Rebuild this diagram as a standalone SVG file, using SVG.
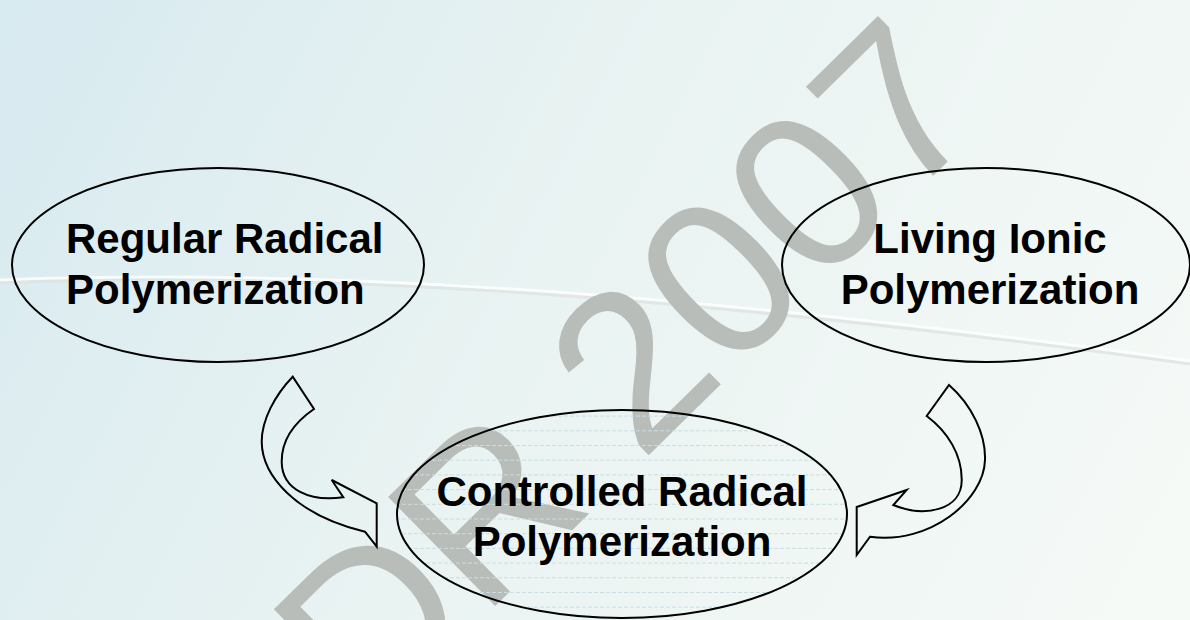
<svg xmlns="http://www.w3.org/2000/svg" width="1190" height="620" viewBox="0 0 1190 620">
  <defs>
    <linearGradient id="bg" x1="0" y1="0" x2="1190" y2="620" gradientUnits="userSpaceOnUse">
      <stop offset="0" stop-color="#d7eaf0"/>
      <stop offset="0.45" stop-color="#e9f3f2"/>
      <stop offset="1" stop-color="#f6faf7"/>
    </linearGradient>
    <pattern id="hlines" patternUnits="userSpaceOnUse" x="0" y="4" width="12" height="14.7">
      <line x1="0" y1="0.5" x2="12" y2="0.5" stroke="#c9dde2" stroke-width="1" stroke-dasharray="4 2"/>
    </pattern>
    <style>
      .node ellipse { stroke: #000; stroke-width: 2; fill: none; }
      .node text { font-family: "Liberation Sans", Arial, sans-serif; font-weight: bold; font-size: 42px; fill: #000; }
      .arrow { fill: none; stroke: #000; stroke-width: 2; stroke-linejoin: miter; }
      .wm { font-family: "Liberation Sans", Arial, sans-serif; font-size: 222px; fill: #b9bdb9; }
    </style>
  </defs>

  <rect x="0" y="0" width="1190" height="620" fill="url(#bg)"/>
  <path d="M0,283 C300,272 650,290 1190,364" fill="none" stroke="#ffffff" stroke-width="3" opacity="0.8" transform="translate(0,-3)"/>
  <path d="M0,283 C300,272 650,290 1190,364" fill="none" stroke="#dde3e2" stroke-width="3" opacity="0.8"/>

  <text class="wm" transform="translate(368,731) rotate(-44.5)">DR 2007</text>

  <g id="node-regular" class="node">
    <ellipse cx="218" cy="265" rx="206" ry="97"/>
    <text x="66" y="253">Regular Radical</text>
    <text x="66" y="304">Polymerization</text>
  </g>

  <g id="node-living" class="node">
    <ellipse cx="986" cy="265" rx="204" ry="97"/>
    <text x="990" y="253" text-anchor="middle">Living Ionic</text>
    <text x="990" y="304" text-anchor="middle">Polymerization</text>
  </g>

  <g id="node-controlled" class="node">
    <ellipse cx="622" cy="514" rx="225" ry="104" style="fill:url(#hlines)"/>
    <text x="622" y="506" text-anchor="middle">Controlled Radical</text>
    <text x="622" y="556" text-anchor="middle">Polymerization</text>
  </g>

  <g id="connectors">
    <path class="arrow" d="M292.7,376.7 C275,395 261.7,420 261.7,441.7 C262,475 295,515 365,531.7 L376.7,546.7 L376.7,503.3 L331.7,480 L343.3,497.3 C310,502 282,490 281.7,462 C281.5,440 295,422 314,409 Z"/>
    <path class="arrow" d="M949,385 C972,405 986,435 985,460 C984,500 930,545 870,536.7 L856.7,555 L856.7,507 L906.7,490 L893.3,505 C925,518 962,510 961.7,480 C962,455 948,432 926.7,416 Z"/>
  </g>
</svg>
